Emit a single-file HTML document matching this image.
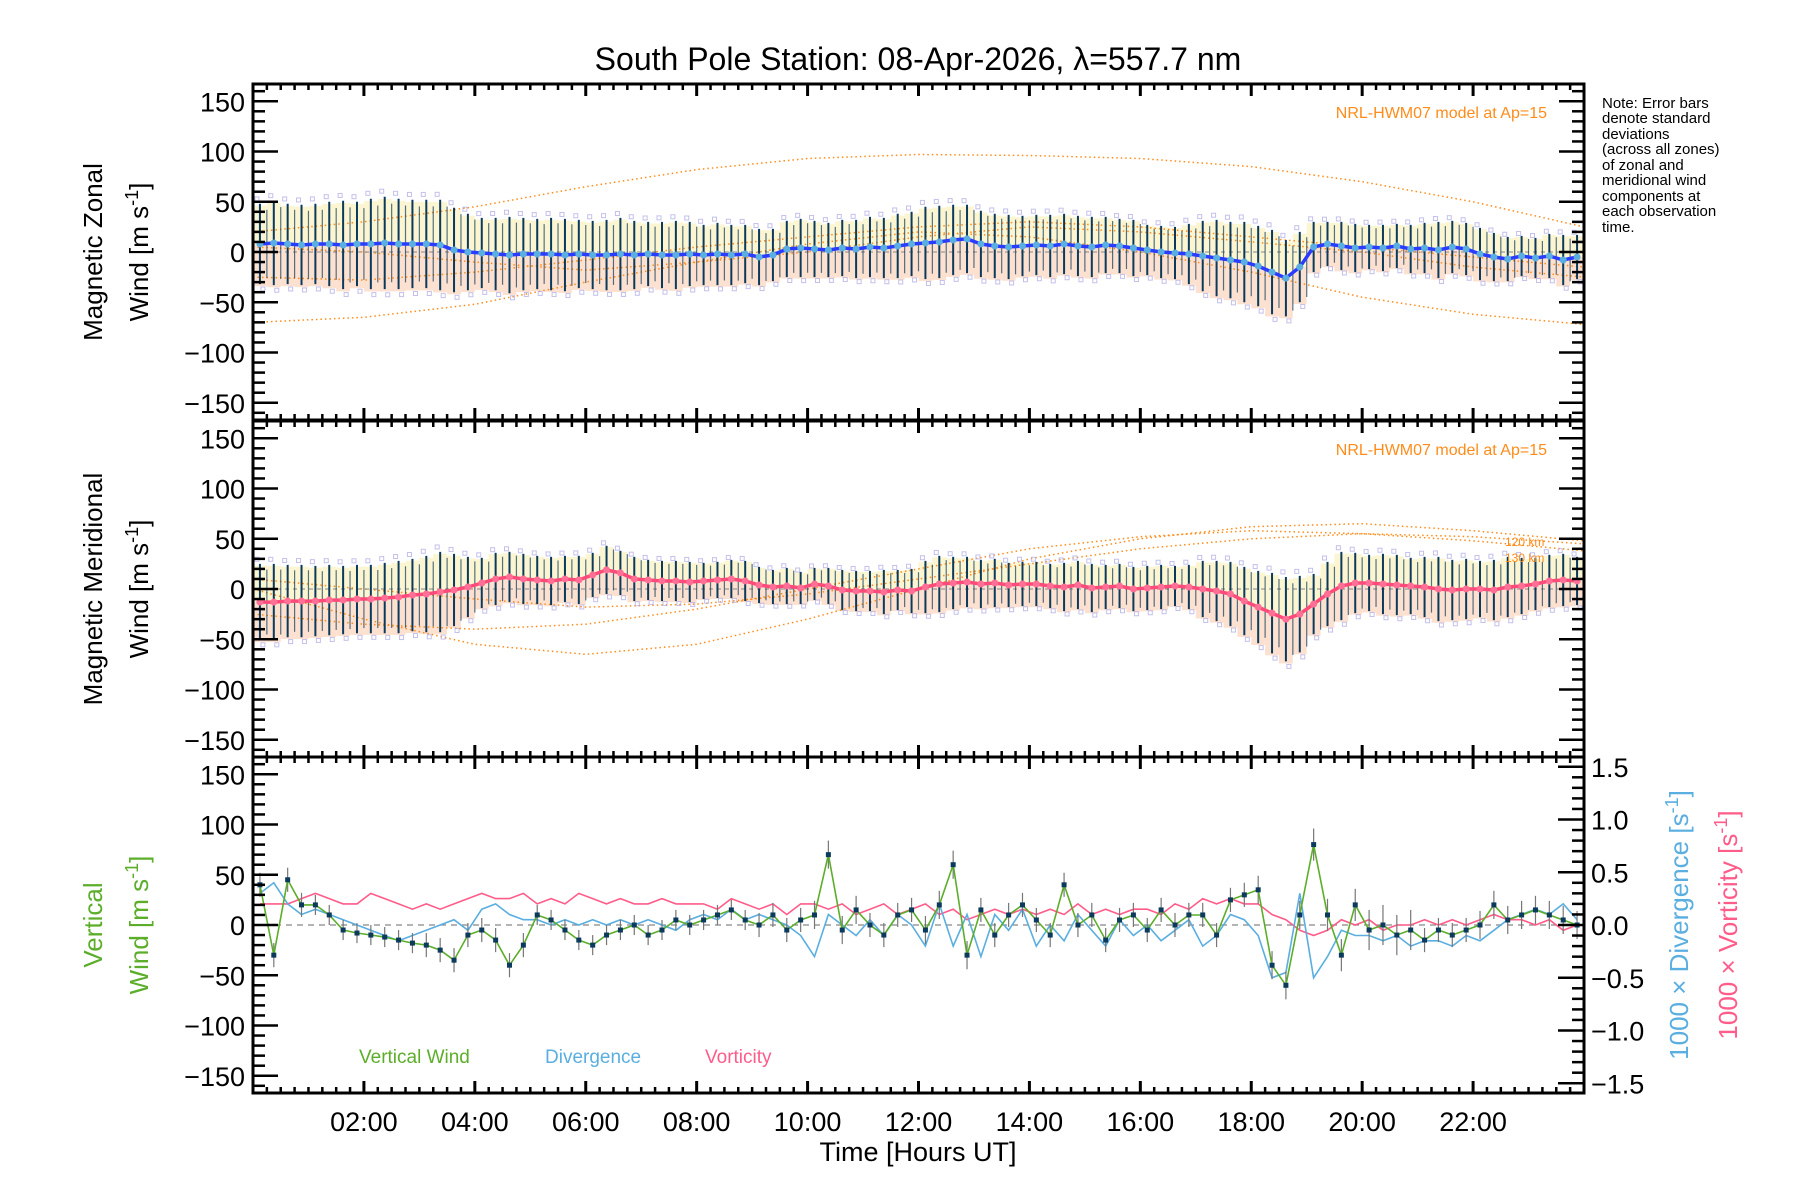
<!DOCTYPE html>
<html><head><meta charset="utf-8">
<style>
html,body{margin:0;padding:0;background:#fff;}
svg{display:block;font-family:"Liberation Sans",sans-serif;}
</style></head>
<body>
<svg id="chart" width="1800" height="1200" viewBox="0 0 1800 1200" xmlns="http://www.w3.org/2000/svg">
<rect x="0" y="0" width="1800" height="1200" fill="#fff"/>
<text x="918" y="70" font-size="32" text-anchor="middle" fill="#000">South Pole Station: 08-Apr-2026, λ=557.7 nm</text>
<g id="marks"></g>
<g id="axes"></g>
<text transform="translate(102,252) rotate(-90)" font-size="26" text-anchor="middle">Magnetic Zonal</text>
<text transform="translate(148,252) rotate(-90)" font-size="26" text-anchor="middle">Wind [m s<tspan dy="-10" font-size="18">-1</tspan><tspan dy="10">]</tspan></text>
<text transform="translate(102,589) rotate(-90)" font-size="26" text-anchor="middle">Magnetic Meridional</text>
<text transform="translate(148,589) rotate(-90)" font-size="26" text-anchor="middle">Wind [m s<tspan dy="-10" font-size="18">-1</tspan><tspan dy="10">]</tspan></text>
<text transform="translate(102,925) rotate(-90)" font-size="26" text-anchor="middle" fill="#5cae2a">Vertical</text>
<text transform="translate(148,925) rotate(-90)" font-size="26" text-anchor="middle" fill="#5cae2a">Wind [m s<tspan dy="-10" font-size="18">-1</tspan><tspan dy="10">]</tspan></text>
<text transform="translate(1688,925) rotate(-90)" font-size="26" text-anchor="middle" fill="#5aaee0">1000 × Divergence [s<tspan dy="-10" font-size="18">-1</tspan><tspan dy="10">]</tspan></text>
<text transform="translate(1737,925) rotate(-90)" font-size="26" text-anchor="middle" fill="#ff5c8a">1000 × Vorticity [s<tspan dy="-10" font-size="18">-1</tspan><tspan dy="10">]</tspan></text>
<text x="918" y="1161" font-size="27" text-anchor="middle">Time [Hours UT]</text>
<text x="1547" y="118" font-size="16" text-anchor="end" fill="#ff8c1a">NRL-HWM07 model at Ap=15</text>
<text x="1547" y="455" font-size="16" text-anchor="end" fill="#ff8c1a">NRL-HWM07 model at Ap=15</text>
<text x="1505" y="546" font-size="12" fill="#ff8c1a">120 km</text>
<text x="1505" y="562" font-size="12" fill="#ff8c1a">130 km</text>
<g font-size="15" fill="#000">
<text x="1602" y="108">Note: Error bars</text>
<text x="1602" y="123">denote standard</text>
<text x="1602" y="139">deviations</text>
<text x="1602" y="154">(across all zones)</text>
<text x="1602" y="170">of zonal and</text>
<text x="1602" y="185">meridional wind</text>
<text x="1602" y="201">components at</text>
<text x="1602" y="216">each observation</text>
<text x="1602" y="232">time.</text>
</g>
<text x="359" y="1063" font-size="19" fill="#5cae2a">Vertical Wind</text>
<text x="545" y="1063" font-size="19" fill="#5aaee0">Divergence</text>
<text x="705" y="1063" font-size="19" fill="#ff5c8a">Vorticity</text>
</svg>
<script>
const times = [0.125,0.375,0.625,0.875,1.125,1.375,1.625,1.875,2.125,2.375,2.625,2.875,3.125,3.375,3.625,3.875,4.125,4.375,4.625,4.875,5.125,5.375,5.625,5.875,6.125,6.375,6.625,6.875,7.125,7.375,7.625,7.875,8.125,8.375,8.625,8.875,9.125,9.375,9.625,9.875,10.125,10.375,10.625,10.875,11.125,11.375,11.625,11.875,12.125,12.375,12.625,12.875,13.125,13.375,13.625,13.875,14.125,14.375,14.625,14.875,15.125,15.375,15.625,15.875,16.125,16.375,16.625,16.875,17.125,17.375,17.625,17.875,18.125,18.375,18.625,18.875,19.125,19.375,19.625,19.875,20.125,20.375,20.625,20.875,21.125,21.375,21.625,21.875,22.125,22.375,22.625,22.875,23.125,23.375,23.625,23.875];
const zonalMean = [8,9,8,7, 8,8,7,8, 8,9,8,8, 8,7,2,0, -1,-2,-3,-2, -2,-2,-3,-2, -3,-3,-2,-3, -2,-3,-3,-2, -3,-2,-3,-2, -5,-3,3,4, 3,2,4,3, 5,4,6,8, 9,10,12,13, 8,6,5,6, 7,6,8,6, 5,7,6,4, 2,0,-1,-2, -4,-6,-8,-10, -14,-20,-26,-15, 5,8,6,4, 5,4,6,3, 4,2,5,3, -2,-5,-7,-4, -6,-4,-8,-5];
const zonalSd = [40,42,40,40, 40,42,44,42, 45,46,45,44, 44,45,42,38, 35,36,38,36, 35,36,36,34, 34,35,36,34, 32,33,34,32, 30,31,30,29, 28,26,28,29, 28,27,28,29, 30,30,32,32, 36,36,35,34, 33,32,32,30, 30,31,30,30, 30,28,27,28, 25,26,26,30, 35,38,38,40, 40,42,38,35, 25,22,24,24, 22,23,22,24, 25,28,26,26, 26,24,22,20, 20,22,25,22];
const meridMean = [-13,-13,-12,-12, -12,-11,-11,-10, -10,-9,-8,-6, -5,-3,-1,2, 6,10,12,10, 9,8,10,9, 14,19,16,10, 9,8,8,7, 8,9,10,8, 4,2,3,1, 5,3,-1,-2, -2,-3,-1,-2, 2,5,6,7, 5,6,4,5, 5,3,2,4, 1,2,3,0, 1,2,3,2, 0,-2,-5,-12, -18,-24,-30,-25, -15,-5,3,6, 6,5,4,3, 2,0,-1,0, 0,-1,2,3, 5,8,9,8];
const meridSd = [38,38,36,36, 35,35,34,34, 34,35,36,36, 38,40,36,30, 25,26,25,25, 24,24,23,24, 22,24,22,22, 20,20,20,20, 18,18,19,20, 18,17,18,16, 16,18,20,20, 20,22,20,22, 26,28,26,25, 24,24,22,22, 22,22,24,24, 24,22,22,22, 22,22,20,22, 28,30,32,34, 36,40,42,38, 30,32,34,30, 28,30,30,28, 30,32,30,30, 28,30,30,28, 26,26,26,24];
const vertWind = [40,-30,45,20, 20,10,-5,-8, -10,-12,-15,-18, -20,-25,-35,-10, -5,-15,-40,-20, 10,5,-5,-15, -20,-10,-5,0, -10,-5,5,0, 5,10,15,5, 0,10,-5,5, 10,70,-5,15, 0,-10,10,15, -5,20,60,-30, 15,-10,10,20, 5,-10,40,0, 10,-15,5,10, -5,15,0,10, 10,-10,25,30, 35,-40,-60,10, 80,10,-30,20, -5,0,-10,-5, -15,-5,-10,-5, 0,20,5,10, 15,10,5,0];
const vertErrHourly = [12,10,10,12,12,10,10,10,10,12,14,12,14,12,12,12,12,12,14,16,20,12,14,14];
const divergence = [0.3,0.4,0.2,0.1, 0.15,0.1,0.05,0.0, -0.05,-0.1,-0.15,-0.1, -0.05,0.0,0.05,-0.05, 0.15,0.2,0.1,0.05, 0.05,0.0,0.05,0.0, 0.05,0.0,0.05,0.0, 0.05,0.0,-0.05,0.05, 0.1,0.05,0.15,0.05, 0.1,0.05,0.0,-0.1, -0.3,0.1,0.0,-0.1, 0.05,-0.1,0.1,0.0, -0.2,0.2,-0.2,0.1, -0.3,0.1,-0.05,0.15, -0.2,0.0,-0.15,0.1, -0.05,-0.2,0.05,-0.1, 0.0,-0.15,-0.05,0.05, -0.2,-0.1,0.1,0.05, -0.1,-0.5,-0.45,0.3, -0.5,-0.3,-0.05,-0.1, -0.1,-0.15,-0.1,-0.2, -0.15,-0.15,-0.2,-0.1, -0.15,-0.05,0.05,0.1, 0.15,0.1,0.2,0.05];
const vorticity = [0.2,0.2,0.2,0.25, 0.3,0.25,0.2,0.2, 0.3,0.25,0.2,0.15, 0.2,0.15,0.2,0.25, 0.3,0.25,0.25,0.3, 0.2,0.25,0.2,0.3, 0.25,0.2,0.25,0.2, 0.2,0.25,0.2,0.2, 0.2,0.15,0.25,0.2, 0.15,0.2,0.1,0.2, 0.2,0.15,0.2,0.1, 0.15,0.2,0.1,0.15, 0.2,0.1,0.15,0.05, 0.1,0.15,0.1,0.15, 0.1,0.15,0.1,0.2, 0.1,0.15,0.1,0.15, 0.15,0.1,0.2,0.15, 0.25,0.2,0.25,0.2, 0.2,0.1,0.05,-0.05, -0.1,-0.05,0.05,0.0, 0.05,-0.05,0.0,0.0, 0.05,0.0,0.05,0.0, 0.05,0.1,0.05,0.05, 0.0,0.05,-0.05,0.0];
const modelHours = [0,2,4,6,8,10,12,14,16,18,20,22,24];
const zonalModelA = [20,30,45,65,82,93,97,96,93,85,70,50,25];
const zonalModelB = [-70,-65,-52,-30,-10,8,20,15,0,-20,-45,-62,-72];
const zonalModelC = [-25,-28,-20,-8,5,15,25,30,25,15,5,-5,-15];
const zonalModelD = [5,0,-10,-18,-10,0,15,25,20,10,0,-15,-25];
const meridModelA = [0,-30,-55,-65,-55,-30,0,30,50,62,65,58,48];
const meridModelB = [-25,-35,-40,-35,-20,0,20,40,52,58,55,48,38];
const meridModelC = [10,0,-10,-18,-15,-5,10,25,40,50,55,52,45];
const xTickLabels = ['02:00','04:00','06:00','08:00','10:00','12:00','14:00','16:00','18:00','20:00','22:00'];
const yTickLabels = ['-150','-100','-50','0','50','100','150'];
const rTickLabels = ['-1.5','-1.0','-0.5','0.0','0.5','1.0','1.5'];

const NS='http://www.w3.org/2000/svg';
const L=253,R=1584,TOPS=[84,421,757],H=336;
const X=h=>L+h*(R-L)/24;
const Yp=(p,v)=>TOPS[p]+168-v*1.005;
const Yr=v=>925-v*105.5;
const marks=document.getElementById('marks'),axes=document.getElementById('axes');
function mk(tag,attrs,parent){const e=document.createElementNS(NS,tag);for(const k in attrs)e.setAttribute(k,attrs[k]);parent.appendChild(e);return e;}
function poly(pts){return pts.map(p=>p[0].toFixed(1)+','+p[1].toFixed(1)).join(' ');}

const defs=mk('defs',{},marks);
TOPS.forEach((t,i)=>{const c=mk('clipPath',{id:'clip'+i},defs);mk('rect',{x:L,y:t,width:R-L,height:H},c);});

function windPanel(p,mean,sd,lineCol,dotCol,models,name){
  const g=mk('g',{'clip-path':'url(#clip'+p+')'},marks);
  
  
  const w=(R-L)/96;
  times.forEach((t,i)=>{
    const b=mk('rect',{x:X(t)-w/2,y:Yp(p,mean[i]+sd[i]*0.95),width:w,height:(sd[i]*0.95)*1.005,fill:'#f8eeb4','fill-opacity':0.6},g);
    
    
    const b2=mk('rect',{x:X(t)-w/2,y:Yp(p,mean[i]),width:w,height:(sd[i]*1.05)*1.005,fill:'#fbcdb0','fill-opacity':0.6},g);
    
    
  });
  models.forEach((m,j)=>{
    const pl=mk('polyline',{points:poly(modelHours.map((h,k)=>[X(h),Yp(p,m[k])])),fill:'none',stroke:'#ff8c1a','stroke-width':1.5,'stroke-dasharray':'1.5,3'},g);
    
    
  });
  const z=mk('line',{x1:L,x2:R,y1:Yp(p,0),y2:Yp(p,0),stroke:'#888','stroke-width':1,'stroke-dasharray':'4,4'},g);
  
  
  times.forEach((t,i)=>{
    [1.12,-1.12].forEach(f=>{
      const s=mk('rect',{x:X(t)-2+(f>0?-3:3),y:Yp(p,mean[i]+sd[i]*f)-2,width:4,height:4,fill:'none',stroke:'#b4b0e6','stroke-width':1,'stroke-opacity':0.8},g);
      
      
    });
    const e=mk('line',{x1:X(t),x2:X(t),y1:Yp(p,mean[i]+sd[i]),y2:Yp(p,mean[i]-sd[i]),stroke:'#0b3a5c','stroke-width':2},g);
    
    
    const e2=mk('line',{x1:X(t)+w/2,x2:X(t)+w/2,y1:Yp(p,mean[i]+sd[i]*0.85),y2:Yp(p,mean[i]-sd[i]*0.85),stroke:'#0b3a5c','stroke-width':1.2,'stroke-opacity':0.7},g);
    
    
  });
  const ln=mk('polyline',{points:poly(times.map((t,i)=>[X(t),Yp(p,mean[i])])),fill:'none',stroke:lineCol,'stroke-width':3.5},g);
  
  
  times.forEach((t,i)=>{
    const d=mk('circle',{cx:X(t),cy:Yp(p,mean[i]),r:3.5,fill:dotCol},g);
    
    
  });
}
windPanel(0,zonalMean,zonalSd,'#2a3cff','#5aaee0',[zonalModelA,zonalModelB,zonalModelC,zonalModelD],'zonal');
windPanel(1,meridMean,meridSd,'#ff4a7a','#ff6f96',[meridModelA,meridModelB,meridModelC],'meridional');

(function(){
  const g=mk('g',{'clip-path':'url(#clip2)'},marks);
  
  
  const z=mk('line',{x1:L,x2:R,y1:Yp(2,0),y2:Yp(2,0),stroke:'#888','stroke-width':1.2,'stroke-dasharray':'6,5'},g);
  
  
  const vo=mk('polyline',{points:poly(times.map((t,i)=>[X(t),Yr(vorticity[i])])),fill:'none',stroke:'#ff5c8a','stroke-width':1.6},g);
  
  
  const dv=mk('polyline',{points:poly(times.map((t,i)=>[X(t),Yr(divergence[i])])),fill:'none',stroke:'#5aaee0','stroke-width':1.6},g);
  
  
  times.forEach((t,i)=>{
    const er=vertErrHourly[Math.floor(t)];
    const e=mk('line',{x1:X(t),x2:X(t),y1:Yp(2,vertWind[i]+er),y2:Yp(2,vertWind[i]-er),stroke:'#777','stroke-width':1.2},g);
    
    
  });
  const vw=mk('polyline',{points:poly(times.map((t,i)=>[X(t),Yp(2,vertWind[i])])),fill:'none',stroke:'#5cae2a','stroke-width':1.6},g);
  
  
  times.forEach((t,i)=>{
    const s=mk('rect',{x:X(t)-2.5,y:Yp(2,vertWind[i])-2.5,width:5,height:5,fill:'#0b3a5c'},g);
    
    
  });
})();

TOPS.forEach((t,p)=>{
  const fr=mk('rect',{x:L,y:t,width:R-L,height:H,fill:'none',stroke:'#000','stroke-width':3},axes);
  
  
  for(let v=-160;v<=160;v+=10){
    const y=Yp(p,v);if(y<t+2||y>t+H-2)continue;
    const len=(v%50===0)?25:12;
    mk('line',{x1:L,x2:L+len,y1:y,y2:y,stroke:'#000','stroke-width':2.5},axes);
    if(p<2) mk('line',{x1:R,x2:R-len,y1:y,y2:y,stroke:'#000','stroke-width':2.5},axes);
  }
  yTickLabels.forEach(s=>{
    const v=parseFloat(s);
    const tx=mk('text',{x:L-8,y:Yp(p,v)+10,'font-size':27,'text-anchor':'end'},axes);
    
    
    tx.textContent=s.replace('-','\u2212');
  });
  for(let q=0;q<=96;q++){
    const x=X(q/4);const major=q%8===0;const len=major?12:6;
    mk('line',{x1:x,x2:x,y1:t,y2:t+len,stroke:'#000','stroke-width':major?3:2.5},axes);
    mk('line',{x1:x,x2:x,y1:t+H,y2:t+H-len,stroke:'#000','stroke-width':major?3:2.5},axes);
  }
});
for(let k=-16;k<=16;k++){
  const v=k/10,y=Yr(v);if(y<757||y>1093)continue;
  const len=(k%5===0)?26:12;
  mk('line',{x1:R,x2:R-len,y1:y,y2:y,stroke:'#000','stroke-width':2.5},axes);
}
rTickLabels.forEach(s=>{
  const v=parseFloat(s);
  const tx=mk('text',{x:R+7,y:Yr(v)+10,'font-size':27},axes);
  
  
  tx.textContent=s.replace('-','\u2212');
});
xTickLabels.forEach(s=>{
  const h=parseInt(s);
  const tx=mk('text',{x:X(h),y:1131,'font-size':27,'text-anchor':'middle'},axes);
  
  
  tx.textContent=s;
});
</script>
</body></html>
